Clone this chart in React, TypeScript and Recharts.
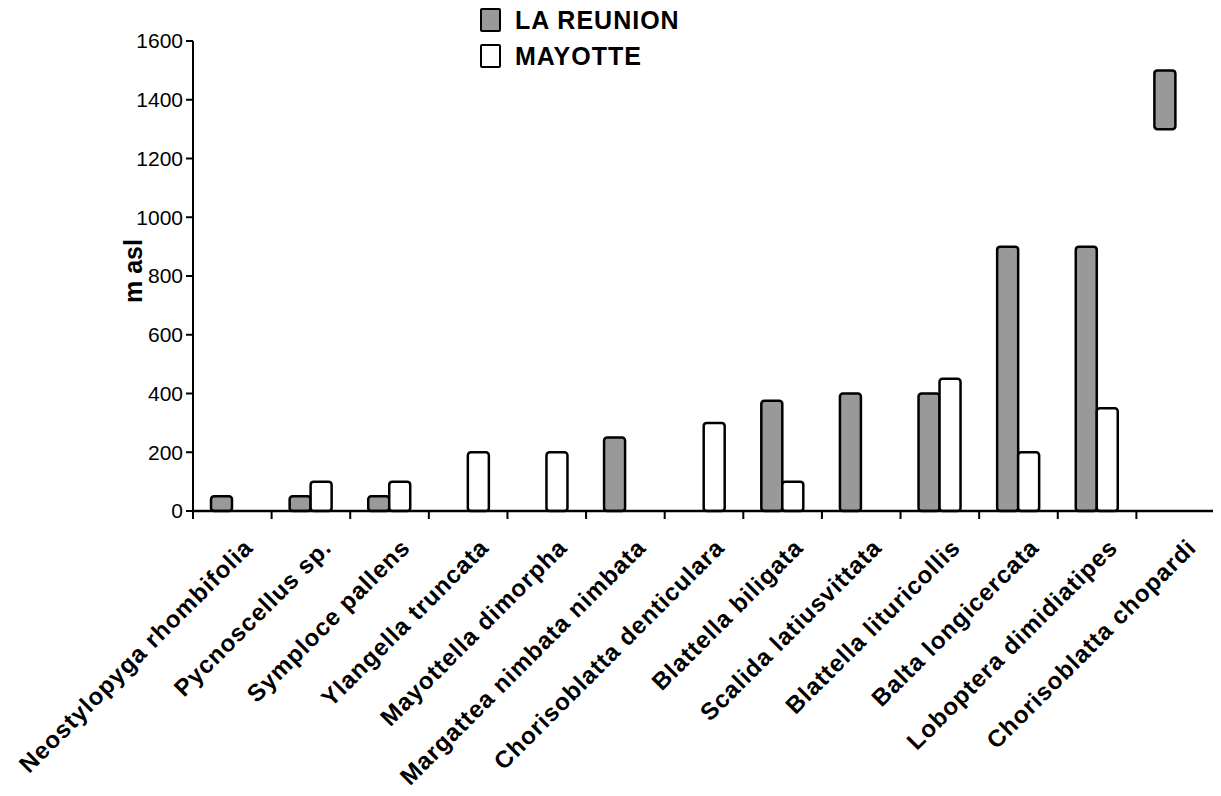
import { BarChart, Bar, XAxis, YAxis, Legend } from 'recharts';

// elevation ranges of cockroach species on the two islands
const categories = [
  'Neostylopyga rhombifolia',
  'Pycnoscellus sp.',
  'Symploce pallens',
  'Ylangella truncata',
  'Mayottella dimorpha',
  'Margattea nimbata nimbata',
  'Chorisoblatta denticulara',
  'Blattella biligata',
  'Scalida latiusvittata',
  'Blattella lituricollis',
  'Balta longicercata',
  'Loboptera dimidiatipes',
  'Chorisoblatta chopardi',
];
const reunionTop = [50, 50, 50, null, null, 250, null, 375, 400, 400, 900, 900, 1500];
const reunionBase = [0, 0, 0, null, null, 0, null, 0, 0, 0, 0, 0, 1300];
const mayotte = [null, 100, 100, 200, 200, null, 300, 100, null, 450, 200, 350, null];
const yTicks = [0, 200, 400, 600, 800, 1000, 1200, 1400, 1600];

const data = categories.map((name, i) => ({
  name,
  reunion: reunionTop[i] == null ? null : [reunionBase[i], reunionTop[i]],
  mayotte: mayotte[i],
}));

const W = 1207;
const H = 788;
const Y_AXIS_W = 185;
const BAND = (W - Y_AXIS_W) / categories.length;
const FONT = '"Liberation Sans", Arial, sans-serif';

function CategoryTick({ x, y, payload }: any) {
  const bx = x - BAND / 2;
  return (
    <g>
      <line x1={bx} y1={y - 6} x2={bx} y2={y + 2} stroke="#000" strokeWidth={2} />
      <text
        x={x + 22}
        y={y + 32}
        transform={`rotate(-45 ${x + 22} ${y + 32})`}
        textAnchor="end"
        fontFamily={FONT}
        fontWeight="bold"
        fontSize={24}
        letterSpacing={1}
        fill="#000"
      >
        {payload.value}
      </text>
    </g>
  );
}

function LegendBox({ payload }: any) {
  return (
    <div style={{ fontFamily: FONT, fontWeight: 'bold', fontSize: 25, letterSpacing: 1 }}>
      {payload.map((p: any) => (
        <div key={p.value} style={{ display: 'flex', alignItems: 'center', height: 36 }}>
          <span
            style={{
              display: 'inline-block',
              width: 17,
              height: 20,
              background: p.color,
              border: '2.5px solid #000',
              borderRadius: 2,
              marginRight: 14,
            }}
          />
          {p.value}
        </div>
      ))}
    </div>
  );
}

export default function App() {
  return (
    <div style={{ position: 'relative', width: W, height: H }}>
      <BarChart
        width={W}
        height={H}
        data={data}
        margin={{ top: 33, right: 0, bottom: 0, left: 0 }}
        barCategoryGap={18}
        barGap={0}
      >
        <XAxis
          dataKey="name"
          height={H - 33 - 470}
          interval={0}
          tickLine={false}
          tickSize={6}
          tickMargin={0}
          axisLine={{ stroke: '#000', strokeWidth: 2.5 }}
          tick={<CategoryTick />}
        />
        <YAxis
          width={Y_AXIS_W}
          domain={[0, 1600]}
          ticks={yTicks}
          interval={0}
          tickSize={7}
          tickMargin={3}
          axisLine={{ stroke: '#000', strokeWidth: 2 }}
          tickLine={{ stroke: '#000', strokeWidth: 2 }}
          tick={{ fontFamily: FONT, fontSize: 21, fill: '#000' }}
        />
        <Legend
          layout="vertical"
          align="center"
          verticalAlign="middle"
          wrapperStyle={{ top: -6, left: 472, width: 260 }}
          content={<LegendBox />}
        />
        <Bar
          dataKey="reunion"
          name="LA REUNION"
          fill="#999999"
          stroke="#000"
          strokeWidth={2.5}
          radius={3}
          isAnimationActive={false}
        />
        <Bar
          dataKey="mayotte"
          name="MAYOTTE"
          fill="#ffffff"
          stroke="#000"
          strokeWidth={2.5}
          radius={3}
          isAnimationActive={false}
        />
      </BarChart>
      <div
        style={{
          position: 'absolute',
          left: 125,
          top: 263,
          transform: 'translate(-50%, -50%) rotate(-90deg)',
          fontFamily: FONT,
          fontWeight: 'bold',
          fontSize: 25,
          whiteSpace: 'nowrap',
        }}
      >
        m asl
      </div>
    </div>
  );
}
